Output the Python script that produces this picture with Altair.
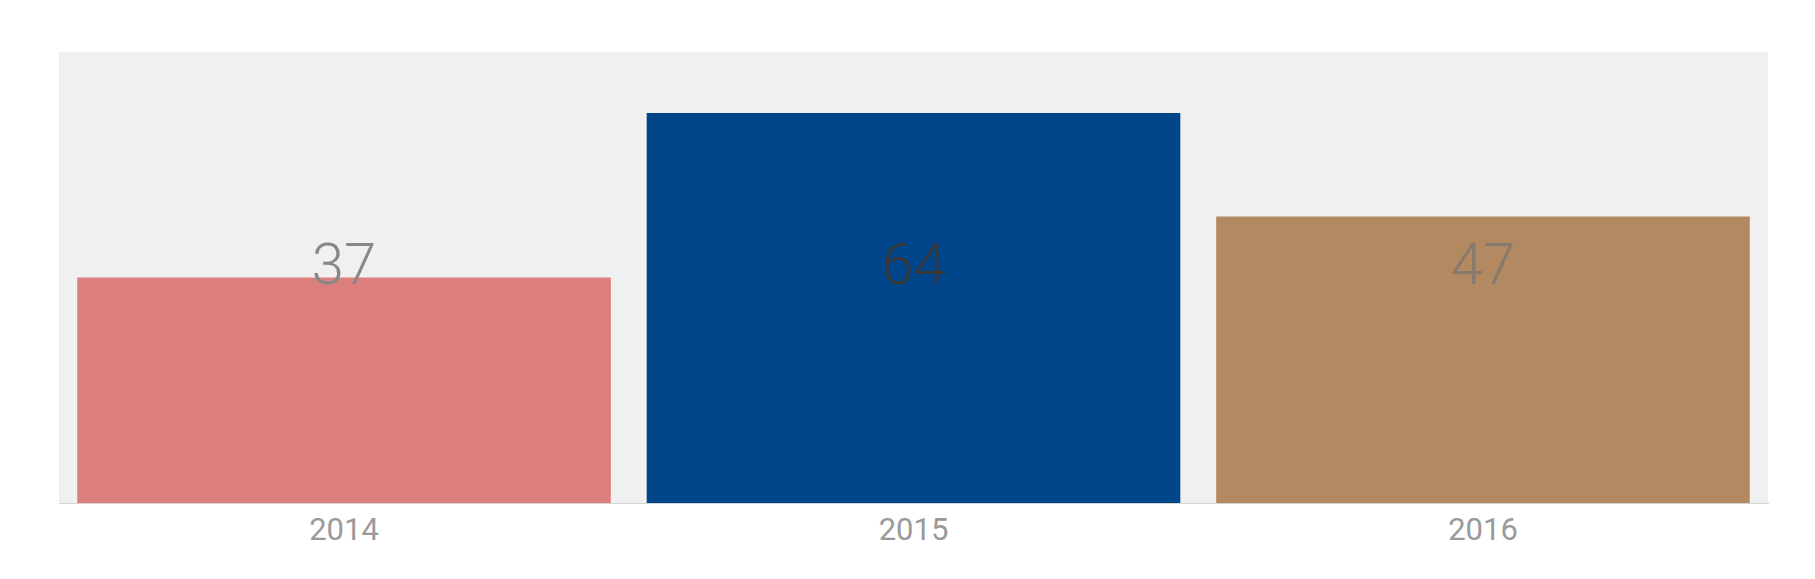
import altair as alt
import pandas as pd

years = ["2014", "2015", "2016"]
values = [37, 64, 47]

bar_colors = ["#DB7E7D", "#00448A", "#B38962"]
label_colors = ["#888888", "#383838", "#857a6e"]

df = pd.DataFrame({"year": years, "value": values})

x_enc = alt.X(
    "year:N",
    sort=years,
    scale=alt.Scale(paddingInner=0.063, paddingOuter=0.032),
    axis=alt.Axis(
        title=None,
        ticks=False,
        tickSize=0,
        grid=False,
        labelAngle=0,
        labelFont="Roboto",
        labelFontWeight="normal",
        labelFontSize=31,
        labelColor="#9a9a9a",
        labelPadding=12,
        domainColor="#a8a8a8",
        domainDash=[1, 1],
        domainWidth=1,
    ),
)

y_scale = alt.Scale(domain=[0, 74], nice=False)

bars = alt.Chart(df).mark_bar(stroke=None).encode(
    x=x_enc,
    y=alt.Y("value:Q", scale=y_scale, axis=None),
    color=alt.Color("year:N", scale=alt.Scale(domain=years, range=bar_colors), legend=None),
)

labels = alt.Chart(df).mark_text(
    font="Roboto",
    fontWeight=300,
    fontSize=58,
    baseline="alphabetic",
    align="center",
).encode(
    x=alt.X("year:N", sort=years),
    y=alt.datum(36),
    text=alt.Text("value:Q"),
    color=alt.Color("year:N", scale=alt.Scale(domain=years, range=label_colors), legend=None),
)

chart = (
    alt.layer(bars, labels)
    .resolve_scale(color="independent")
    .properties(
        width=1709,
        height=451,
        autosize=alt.AutoSizeParams(type="none"),
        padding={"left": 51, "top": 44, "right": 39, "bottom": 68},
        background="white",
    )
    .configure_view(fill="#F0F0F0", stroke=None)
)

chart.save("out.html", embed_options={"renderer": "svg", "actions": False})
